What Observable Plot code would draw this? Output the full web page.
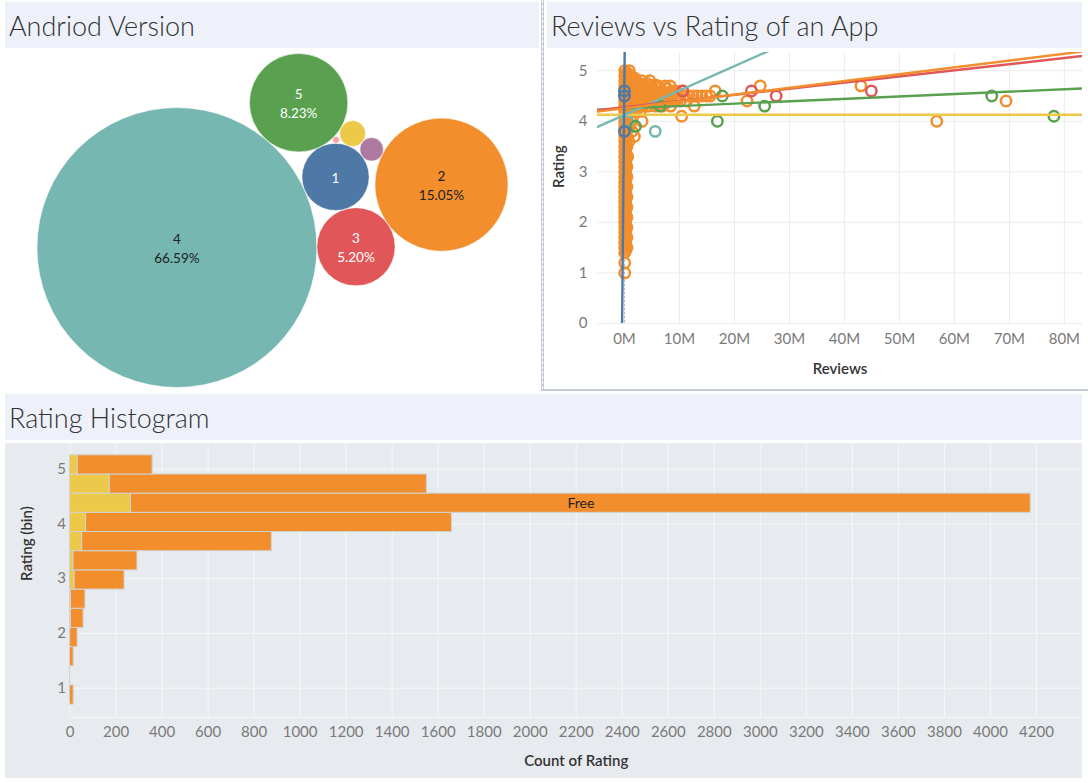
<!DOCTYPE html>
<html>
<head>
<meta charset="utf-8">
<script src="https://cdn.jsdelivr.net/npm/d3@7"></script>
<script src="https://cdn.jsdelivr.net/npm/@observablehq/plot@0.6"></script>
<style>
  body { margin: 0; background: #fff; width: 1088px; height: 783px; overflow: hidden; position: relative;
         font-family: Lato, "Open Sans", sans-serif; }
  .title { position: absolute; height: 46px; background: #eef1f9; color: #333; font-weight: 300; font-size: 27px;
           display: flex; align-items: center; padding-left: 4px; box-sizing: border-box; white-space: nowrap; }
  .pane { position: absolute; }
  .pane svg { display: block; }
</style>
</head>
<body>
<div id="rightBorder" style="position:absolute;left:541px;top:0;width:544px;height:389px;border-left:3px solid #c5ccd8;border-bottom:2px solid #c5ccd8;"></div>
<div style="position:absolute;left:542px;top:0;width:0;height:389px;border-left:1px dashed #ffffff;"></div>
<div class="title" style="left:5px;top:2px;width:534px;">Andriod Version</div>
<div class="title" style="left:547px;top:2px;width:535px;">Reviews vs Rating of an App</div>
<div class="title" style="left:5px;top:394px;width:1077px;">Rating Histogram</div>
<div id="bubbles" class="pane" style="left:5px;top:48px;"></div>
<div id="scatter" class="pane" style="left:544px;top:48px;"></div>
<div id="hist" class="pane" style="left:5px;top:443px;"></div>
<script>
// ---------------- DATA ----------------
// Android version share (packed bubbles)
const versions = ["1", "2", "3", "4", "5", "6", "7", "8"];
const versionShare = [3.85, 15.05, 5.20, 66.59, 8.23, 0.57, 0.47, 0.04];
// which bubbles touch each other in the picture (topology only)
const bubbleTouching = [["4","1"],["4","3"],["1","3"],["1","2"],["3","2"],["4","5"],["1","5"],
                        ["5","6"],["1","6"],["6","7"],["7","2"],["6","8"],["5","8"]];

// Reviews (millions) vs Rating, per Android version: [reviews, rating]
const v1Points = [[0.0, 4.6], [0.0, 4.5], [0.0, 3.8]];
const v2Points = [
  [0.05,1.0],[0.05,1.2],[0.05,1.4],[0.05,1.5],[0.05,1.6],[0.05,1.7],[0.05,1.8],[0.05,1.9],[0.05,2.0],
  [0.05,2.1],[0.05,2.2],[0.05,2.3],[0.05,2.4],[0.05,2.5],[0.05,2.6],[0.05,2.7],[0.05,2.8],[0.05,2.9],
  [0.05,3.0],[0.05,3.1],[0.05,3.2],[0.05,3.3],[0.05,3.4],[0.05,3.5],[0.05,3.6],[0.05,3.7],[0.05,3.8],
  [0.05,3.9],[0.05,4.0],[0.05,4.1],[0.05,4.2],[0.05,4.3],[0.05,4.4],[0.05,4.5],[0.05,4.6],[0.05,4.7],
  [0.05,4.8],[0.05,4.9],[0.05,5.0],
  [0.25,1.45],[0.25,1.55],[0.25,1.65],[0.25,1.75],[0.25,1.85],[0.25,1.95],[0.25,2.05],[0.25,2.15],
  [0.25,2.25],[0.25,2.35],[0.25,2.45],[0.25,2.55],[0.25,2.65],[0.25,2.75],[0.25,2.85],[0.25,2.95],
  [0.25,3.05],[0.25,3.15],[0.25,3.25],[0.25,3.35],[0.25,3.45],[0.25,3.55],[0.25,3.65],[0.25,3.75],
  [0.25,3.85],[0.25,3.95],[0.25,4.05],[0.25,4.15],[0.25,4.25],[0.25,4.35],[0.25,4.45],[0.25,4.55],
  [0.25,4.65],[0.25,4.75],[0.25,4.85],[0.25,4.95],
  [0.45,1.5],[0.45,1.7],[0.45,1.9],[0.45,2.1],[0.45,2.3],[0.45,2.5],[0.45,2.7],[0.45,2.9],[0.45,3.1],
  [0.45,3.3],[0.45,3.5],[0.45,3.7],[0.45,3.9],[0.45,4.1],[0.45,4.3],[0.45,4.5],[0.45,4.7],[0.45,4.9],
  [0.6,3.3],[1.8,3.7],[0.9,3.9],[3.2,4.0],[1.2,4.0],[10.4,4.1],[0.8,3.6],[1.4,3.8],
  [0.6,4.95],[1.1,4.9],[0.9,5.0],
  [0.7,4.8],[1.4,4.8],[2.1,4.8],[3.1,4.8],[4.6,4.8],[1.9,4.85],[2.7,4.75],
  [0.8,4.7],[1.6,4.7],[2.4,4.7],[3.4,4.7],[4.9,4.7],[6.1,4.7],[7.4,4.7],[8.3,4.7],[4.1,4.75],[5.6,4.72],
  [0.9,4.6],[1.9,4.6],[2.9,4.6],[4.1,4.6],[5.4,4.6],[6.8,4.6],[8.6,4.6],[9.4,4.6],[10.6,4.6],[16.5,4.6],
  [1.3,4.65],[2.5,4.65],[3.6,4.65],[4.7,4.65],[6.2,4.65],[7.6,4.65],
  [1.0,4.5],[1.7,4.5],[2.6,4.5],[3.7,4.5],[4.5,4.5],[5.8,4.5],[6.6,4.5],[7.7,4.5],[8.8,4.5],[9.7,4.5],
  [10.9,4.5],[11.8,4.5],[12.5,4.5],[13.2,4.5],[14.1,4.5],[14.9,4.5],[15.6,4.5],
  [1.4,4.55],[2.3,4.55],[3.2,4.55],[4.3,4.55],[5.1,4.55],[6.3,4.55],[7.2,4.55],[8.1,4.55],[9.1,4.55],
  [0.9,4.4],[1.8,4.4],[2.8,4.4],[3.9,4.4],[4.8,4.4],[5.9,4.4],[7.1,4.4],[8.2,4.4],[9.3,4.4],[10.2,4.4],
  [11.3,4.4],[22.3,4.4],[69.4,4.4],
  [1.3,4.45],[2.4,4.45],[3.3,4.45],[4.2,4.45],[5.3,4.45],[6.4,4.45],[7.5,4.45],[8.6,4.45],[9.8,4.45],
  [1.1,4.3],[2.2,4.3],[3.3,4.3],[4.4,4.3],[5.6,4.3],[6.9,4.3],[8.4,4.3],[12.7,4.3],
  [1.6,4.35],[2.7,4.35],[3.8,4.35],[5.0,4.35],[6.2,4.35],[7.4,4.35],
  [0.8,4.2],[1.9,4.2],[2.9,4.2],[1.3,4.25],[2.4,4.25],
  [24.7,4.7],[43.0,4.7],[56.8,4.0]
];
const v3Points = [[10.6, 4.6], [23.1, 4.6], [27.6, 4.5], [44.9, 4.6]];
const v4Points = [[5.6, 3.8], [0.6, 4.0]];
const v5Points = [[6.5, 4.3], [2.0, 3.9], [16.9, 4.0], [17.8, 4.5], [25.5, 4.3], [66.8, 4.5], [78.1, 4.1]];

// Linear trend per version: rating = intercept + slope * reviews(M)
const trendVersions  = ["1", "2", "3", "4", "5", "6"];
const trendIntercept = [4.9, 4.256, 4.28, 4.126, 4.253, 4.13];
const trendSlope     = [11.4, 0.01349, 0.01213, 0.0482, 0.00476, 0.0];

const reviewTicks = [0, 10, 20, 30, 40, 50, 60, 70, 80];
const ratingTicks = [0, 1, 2, 3, 4, 5];

// Rating histogram (bin size 0.35), stacked by Type
const ratingBins = [0.7, 1.05, 1.4, 1.75, 2.1, 2.45, 2.8, 3.15, 3.5, 3.85, 4.2, 4.55, 4.9];
const binSize = 0.35;
const paidCounts = [0, 0, 0, 1, 4, 4, 20, 15, 53, 70, 265, 173, 34];
const freeCounts = [16, 1, 16, 32, 55, 63, 217, 278, 824, 1590, 3910, 1378, 325];
const countTicks = [0,200,400,600,800,1000,1200,1400,1600,1800,2000,2200,2400,2600,2800,3000,3200,3400,3600,3800,4000,4200];
const binTicks = [1, 2, 3, 4, 5];

// ---------------- STYLE ----------------
const FONT = 'Lato, "Open Sans", sans-serif';
const T10 = d3.schemeTableau10;
const versionColor = v => T10[versions.indexOf(v)];
const plain = d => String(d);

// ---------------- BUBBLES ----------------
{
  const W = 534, H = 344, pad = 5;
  const bubbleAngle = -24; // direction from the largest bubble to bubble "1"
  const base = versions.map((v, i) => ({v, share: versionShare[i], r: Math.sqrt(versionShare[i])}));
  const idx = Object.fromEntries(versions.map((v, i) => [v, i]));
  let best = null, bestScore = Infinity;
  function evaluate(order) {
    const cs = order.map(i => ({i, r: base[i].r}));
    d3.packSiblings(cs);
    const pos = [];
    cs.forEach(c => pos[c.i] = c);
    let s = 0;
    for (const [a, b] of bubbleTouching) {
      const A = pos[idx[a]], B = pos[idx[b]];
      const g = Math.hypot(A.x - B.x, A.y - B.y) - A.r - B.r;
      s += g * g * Math.min(A.r, B.r);
    }
    if (s < bestScore) { bestScore = s; best = pos.map(p => ({x: p.x, y: p.y, r: p.r})); }
  }
  const a = d3.range(versions.length), c = new Array(a.length).fill(0);
  evaluate(a.slice());
  let k = 0;
  while (k < a.length) {
    if (c[k] < k) {
      if (k % 2 === 0) [a[0], a[k]] = [a[k], a[0]]; else [a[c[k]], a[k]] = [a[k], a[c[k]]];
      evaluate(a.slice()); c[k]++; k = 0;
    } else { c[k] = 0; k++; }
  }
  const big = best[idx["4"]], one = best[idx["1"]], three = best[idx["3"]];
  const cross = (one.x - big.x) * (three.y - big.y) - (one.y - big.y) * (three.x - big.x);
  if (cross < 0) best.forEach(p => p.y = -p.y);
  const cur = Math.atan2(one.y - big.y, one.x - big.x);
  const rot = bubbleAngle * Math.PI / 180 - cur;
  best.forEach(p => { const x = p.x * Math.cos(rot) - p.y * Math.sin(rot); const y = p.x * Math.sin(rot) + p.y * Math.cos(rot); p.x = x; p.y = y; });
  const x0 = d3.min(best, p => p.x - p.r), x1 = d3.max(best, p => p.x + p.r);
  const y0 = d3.min(best, p => p.y - p.r), y1 = d3.max(best, p => p.y + p.r);
  const s = Math.min((W - 2 * pad) / (x1 - x0), (H - 2 * pad) / (y1 - y0));
  const cx = (x0 + x1) / 2, cy = (y0 + y1) / 2;
  const nodes = base.map((d, i) => ({
    ...d,
    px: W / 2 + (best[i].x - cx) * s,
    py: H / 2 + (best[i].y - cy) * s,
    pr: best[i].r * s,
    color: versionColor(d.v)
  }));
  const labelled = nodes.filter(d => d.pr > 20);
  const chart = Plot.plot({
    width: W, height: H, margin: 0,
    x: {type: "identity", axis: null}, y: {type: "identity", axis: null},
    r: {type: "identity"}, color: {type: "identity"},
    style: {fontFamily: FONT, background: "transparent", overflow: "visible"},
    marks: [
      Plot.dot(nodes, {x: "px", y: "py", r: "pr", fill: "color", stroke: "#ffffff", strokeWidth: 0.6}),
      Plot.text(labelled, {
        x: "px", y: "py",
        text: d => d.pr > 36 ? `${d.v}\n${d.share.toFixed(2)}%` : d.v,
        fill: d => d3.lab(d.color).l > 62 ? "#222222" : "#ffffff",
        fontSize: 13.5, lineHeight: 1.4
      })
    ]
  });
  document.getElementById("bubbles").append(chart);
}

// ---------------- SCATTER ----------------
{
  const xDomain = [-4.9, 83.3];
  const rows = [];
  const order = [["2", v2Points], ["4", v4Points], ["5", v5Points], ["3", v3Points], ["1", v1Points]];
  for (const [v, pts] of order) for (const [rev, rat] of pts) rows.push({v, reviews: rev, rating: rat});
  const trendRows = [];
  trendVersions.forEach((v, i) => {
    for (const x of xDomain) trendRows.push({v, x, y: trendIntercept[i] + trendSlope[i] * x});
  });
  const lineOrder = ["6", "5", "4", "3", "2", "1"];
  trendRows.sort((a, b) => lineOrder.indexOf(a.v) - lineOrder.indexOf(b.v));
  const chart = Plot.plot({
    width: 544, height: 340,
    marginLeft: 53, marginRight: 6, marginTop: 4, marginBottom: 65,
    x: {domain: xDomain}, y: {domain: [0, 5.36]}, color: {type: "identity"},
    style: {fontFamily: FONT, fontSize: "15px", color: "#7a7a7a", background: "transparent", overflow: "visible"},
    marks: [
      Plot.gridX(reviewTicks, {stroke: "#ebebeb", strokeOpacity: 1}),
      Plot.gridY(ratingTicks, {stroke: "#ebebeb", strokeOpacity: 1}),
      Plot.ruleX([0], {stroke: "#b8b8b8", strokeDasharray: "2,2"}),
      Plot.axisX(reviewTicks, {tickSize: 0, tickPadding: 10, tickFormat: d => `${d}M`, label: null, fontSize: 15}),
      Plot.axisY(ratingTicks, {tickSize: 0, tickPadding: 10, tickFormat: plain, label: null, fontSize: 15}),
      Plot.dot(rows, {x: "reviews", y: "rating", r: 5.2, fill: "none", stroke: d => versionColor(d.v), strokeWidth: 2.5}),
      Plot.line(trendRows, {x: "x", y: "y", z: "v", stroke: d => versionColor(d.v), strokeWidth: 2.4, clip: true}),
      Plot.text(["Reviews"], {frameAnchor: "bottom", dy: 46, lineAnchor: "middle", fill: "#333", fontWeight: 600, fontSize: 15}),
      Plot.text(["Rating"], {frameAnchor: "left", dx: -38, rotate: -90, fill: "#333", fontWeight: 600, fontSize: 15})
    ]
  });
  document.getElementById("scatter").append(chart);
}

// ---------------- HISTOGRAM ----------------
{
  const yDomain = [0.465, 5.447];
  const rows = [];
  ratingBins.forEach((b, i) => {
    const p = paidCounts[i], f = freeCounts[i];
    if (p > 0) rows.push({type: "Paid", bin: b, x1: 0, x2: p, count: p});
    if (f > 0) rows.push({type: "Free", bin: b, x1: p, x2: p + f, count: f});
  });
  const typeColor = {Free: T10[1], Paid: T10[5]};
  const maxFree = d3.max(rows.filter(d => d.type === "Free"), d => d.count);
  const labelRows = rows.filter(d => d.type === "Free" && d.count === maxFree);
  const chart = Plot.plot({
    width: 1077, height: 335,
    marginLeft: 64.5, marginRight: 0, marginTop: 1, marginBottom: 61,
    x: {domain: [0, 4400]}, y: {domain: yDomain}, color: {type: "identity"},
    style: {fontFamily: FONT, fontSize: "15px", color: "#7a7a7a", background: "#e7ebef", overflow: "visible"},
    marks: [
      Plot.gridX(countTicks, {stroke: "#f5f6f8", strokeOpacity: 1}),
      Plot.gridY(binTicks, {stroke: "#f5f6f8", strokeOpacity: 1}),
      Plot.ruleY([yDomain[0]], {stroke: "#f5f6f8"}),
      Plot.axisX(countTicks, {tickSize: 0, tickPadding: 9, tickFormat: plain, label: null, fontSize: 15}),
      Plot.axisY(binTicks, {tickSize: 0, tickPadding: 4, tickFormat: plain, label: null, fontSize: 15}),
      Plot.rect(rows, {x1: "x1", x2: "x2", y1: "bin", y2: d => d.bin + binSize,
                       fill: d => typeColor[d.type], stroke: "#d2d2d2", strokeWidth: 1}),
      Plot.text(labelRows, {x: d => (d.x1 + d.x2) / 2, y: d => d.bin + binSize / 2, text: "type", fill: "#222", fontSize: 14}),
      Plot.text(["Count of Rating"], {frameAnchor: "bottom", dy: 44, lineAnchor: "middle", fill: "#333", fontWeight: 600, fontSize: 15}),
      Plot.text(["Rating (bin)"], {frameAnchor: "left", dx: -43, rotate: -90, fill: "#333", fontWeight: 600, fontSize: 15})
    ]
  });
  document.getElementById("hist").append(chart);
}
</script>
</body>
</html>
